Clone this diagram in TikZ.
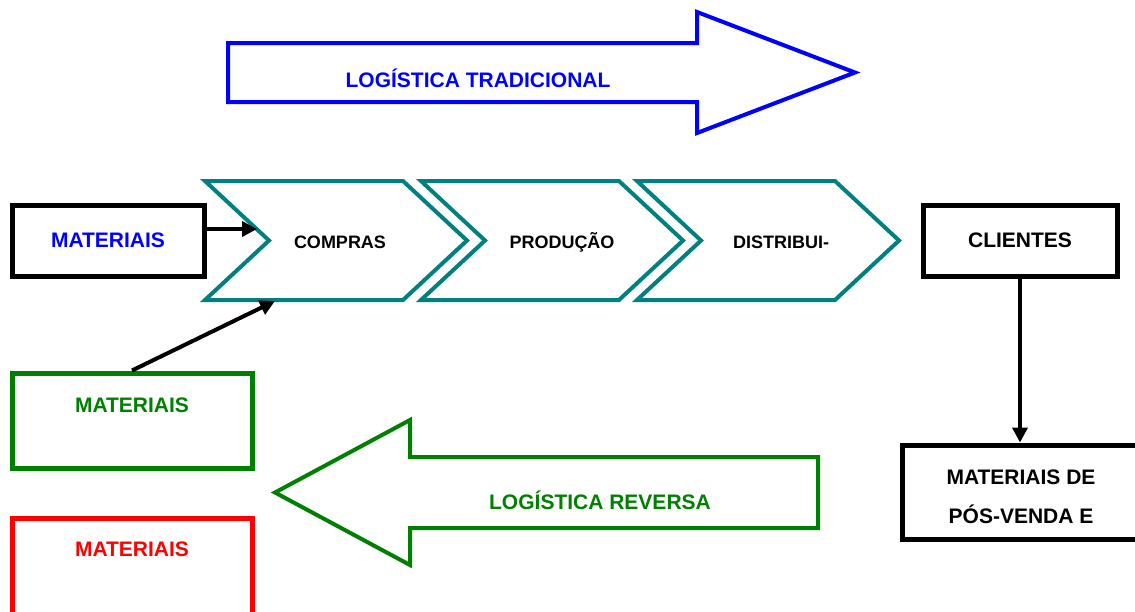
\documentclass[tikz,border=0pt]{standalone}
\usepackage{fontspec}
\setmainfont{Liberation Sans}
\usetikzlibrary{positioning,arrows.meta}
\definecolor{Teal}{rgb}{0,0.5,0.5}
\definecolor{Verde}{rgb}{0,0.5,0}
\tikzset{
  caixa/.style={draw=#1,line width=5pt,minimum width=240pt,minimum height=95pt,inner sep=0pt},
  rotulo/.style={font=\fontsize{21}{25}\selectfont\bfseries,text=#1,inner sep=0pt},
  rotulopeq/.style={font=\fontsize{18}{21}\selectfont\bfseries,inner sep=0pt},
  seta/.style={line width=4pt,-{Triangle[length=15pt,width=15pt]}},
  chevron/.style={draw=Teal,line width=4pt,line join=miter}
}
\newcommand{\drawchevron}[4]{% Parameters: left x, name, label x, label
  \draw[chevron] (#1,181) -- ++(198,0) -- ++(64,59.5) -- ++(-64,59.5) -- ++(-198,0) -- ++(64,-59.5) -- cycle;
  \node[rotulopeq] (#2) at (#3,242) {#4};
}
\newcommand{\drawbigarrow}[7]{% Parameters: color, tail x, head base x, tip x, centre y, shaft half, head half
  \draw[draw=#1,line width=4pt,line join=miter] (#2,#5-#6) -- (#3,#5-#6) -- (#3,#5-#7)
  -- (#4,#5) -- (#3,#5+#7) -- (#3,#5+#6) -- (#2,#5+#6) -- cycle;
}

\begin{document}
\begin{tikzpicture}[x=1pt,y=-1pt]
  \useasboundingbox (0,0) rectangle (1135,611);
  % setas grandes
  \drawbigarrow{blue}{228}{697}{855}{72.5}{29.5}{60.5}
  \node[rotulo=blue] (tradicional) at (478,78) {LOGÍSTICA TRADICIONAL};
  \drawbigarrow{Verde}{818}{410}{275}{492.5}{35.5}{72.5}
  \node[rotulo=Verde] (reversa) at (600,500) {LOGÍSTICA REVERSA};
  % cadeia
  \drawchevron{205}{compras}{340}{COMPRAS}
  \drawchevron{421}{producao}{562}{PRODUÇÃO}
  \drawchevron{637}{distribuicao}{781}{DISTRIBUI-}
  \coordinate (comprasin) at (257,229);
  \coordinate (comprasbot) at (275,301);
  % caixas
  \node[caixa=black,minimum width=192pt,minimum height=71pt] (matazul) at (108,240.5) {};
  \node[rotulo=blue] (matazultxt) at (matazul) {MATERIAIS};
  \node[caixa=Verde] (matverde) at (132,420.5) {};
  \node[rotulo=Verde] (matverdetxt) at ([yshift=-35pt]matverde.north) {MATERIAIS};
  \node[caixa=red,minimum height=100pt] (matverm) at (132,568) {};
  \node[rotulo=red] (matvermtxt) at ([yshift=-34pt]matverm.north) {MATERIAIS};
  \node[caixa=black,minimum width=194pt,minimum height=71pt] (clientes) at (1020,240.5) {};
  \node[rotulo=black] (clientestxt) at (clientes) {CLIENTES};
  \node[caixa=black,minimum width=250pt,minimum height=94pt] (posvenda) at (1027,492) {};
  \node[rotulo=black,align=center,font=\fontsize{21}{39}\selectfont\bfseries] (posvendatxt) at (1021,497) {MATERIAIS DE\\PÓS-VENDA E};
  % ligacoes
  \draw[seta] (matazul.east |- comprasin) -- (comprasin);
  \draw[seta] (matverde.north) -- (comprasbot);
  \draw[seta] (clientes.south) -- (clientes.south |- posvenda.north);
\end{tikzpicture}
\end{document}
